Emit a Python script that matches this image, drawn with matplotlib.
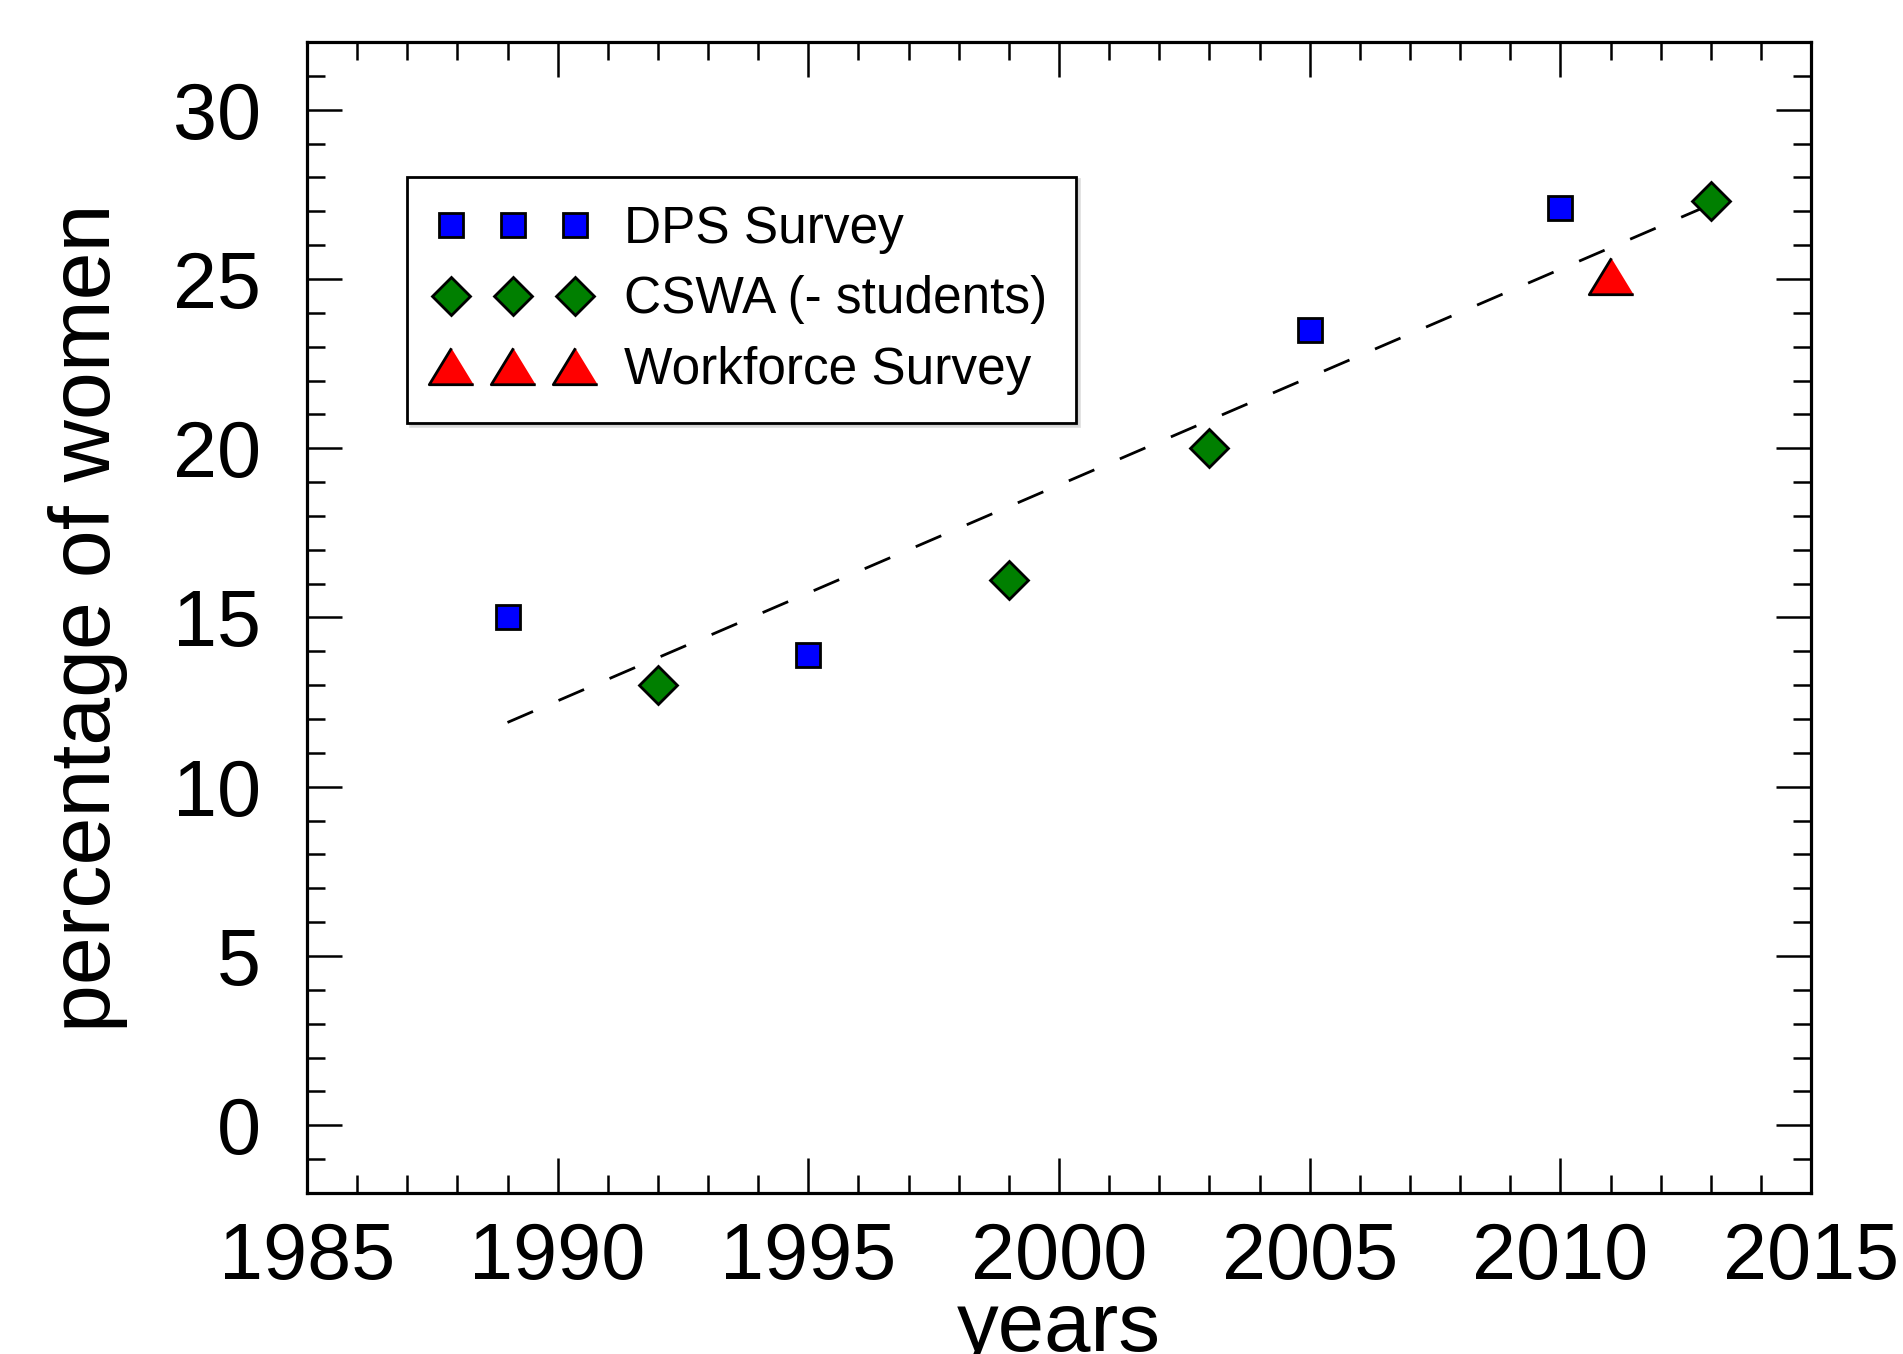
import numpy as np
import matplotlib
matplotlib.use('Agg')
import matplotlib.pyplot as plt
from matplotlib.ticker import MultipleLocator

plt.rcParams['font.family'] = ['Liberation Sans', 'DejaVu Sans']

# data
dps_years = [1989, 1995, 2005, 2010]
dps_pct = [15.0, 13.9, 23.5, 27.1]

cswa_years = [1992, 1999, 2003, 2013]
cswa_pct = [13.0, 16.1, 20.0, 27.3]

wf_years = [2011]
wf_pct = [25.1]

# dashed trend line end points
trend_years = [1989, 2013]
trend_pct = [11.9, 27.2]

fig = plt.figure(figsize=(19.03, 13.54), dpi=100)
ax = fig.add_axes([0.1613, 0.1189, 0.7904, 0.8501])

ax.plot(trend_years, trend_pct, color='black', lw=2, dashes=(10, 10), zorder=2)

tri = [(0, 0.82), (-1, -0.82), (1, -0.82)]
ax.plot(dps_years, dps_pct, ls='none', marker='s', ms=17.5, mfc='#0000ff', mec='black',
        mew=2, label='DPS Survey', zorder=3)
ax.plot(cswa_years, cswa_pct, ls='none', marker='D', ms=19, mfc='#007f00', mec='black',
        mew=2, label='CSWA (- students)', zorder=3)
ax.plot(wf_years, wf_pct, ls='none', marker=tri, ms=32, mfc='#ff0000', mec='black',
        mew=2, label='Workforce Survey', zorder=3)

ax.set_xlim(1985, 2015)
ax.set_ylim(-2, 32)
ax.xaxis.set_major_locator(MultipleLocator(5))
ax.xaxis.set_minor_locator(MultipleLocator(1))
ax.yaxis.set_major_locator(MultipleLocator(5))
ax.yaxis.set_minor_locator(MultipleLocator(1))

ax.tick_params(which='both', direction='in', top=True, right=True, width=1.8)
ax.tick_params(which='major', length=25)
ax.tick_params(which='minor', length=13)
ax.tick_params(axis='x', which='major', labelsize=57, pad=20)
ax.tick_params(axis='y', which='major', labelsize=57, pad=33)
for s in ax.spines.values():
    s.set_linewidth(2.3)

ax.set_xlabel('years', fontsize=60)
ax.xaxis.set_label_coords(0.5, -0.137)
ax.xaxis.label.set_verticalalignment('baseline')

ax.set_ylabel('percentage of women', fontsize=62)
ax.yaxis.label.set_rotation_mode('anchor')
ax.yaxis.label.set_verticalalignment('baseline')
ax.yaxis.label.set_horizontalalignment('center')
ax.yaxis.set_label_coords(-0.131, 0.5)

leg = ax.legend(loc='upper left', bbox_to_anchor=(0.0665, 0.883), borderaxespad=0,
                numpoints=3, fontsize=37, handlelength=3.01, handletextpad=0.66,
                borderpad=0.56, labelspacing=0.41, fancybox=False,
                shadow={'color': '0.8', 'alpha': 0.6})
leg.get_frame().set_edgecolor('black')
leg.get_frame().set_linewidth(2)

fig.savefig('out.png', dpi=100)
